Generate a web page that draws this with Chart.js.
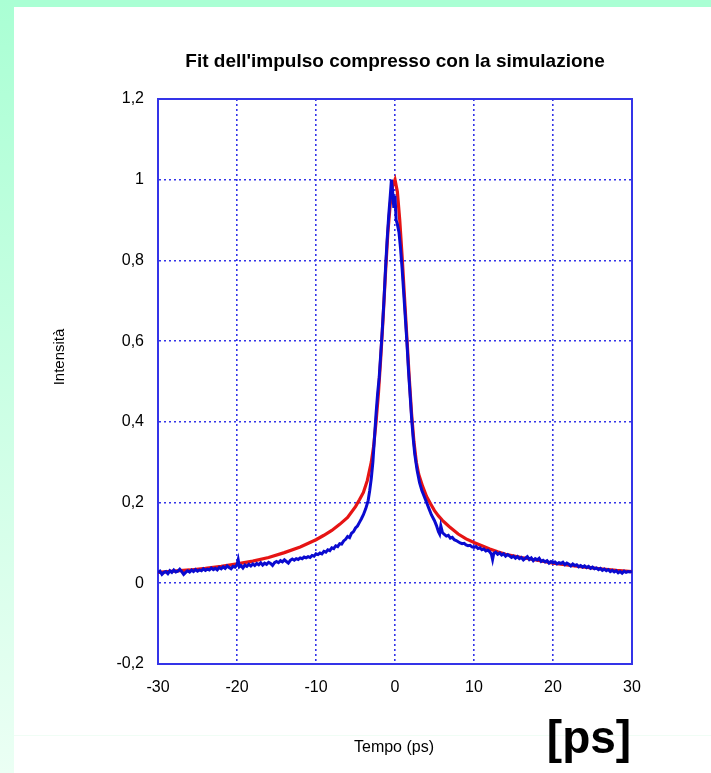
<!DOCTYPE html>
<html>
<head>
<meta charset="utf-8">
<script src="https://cdn.jsdelivr.net/npm/chart.js@4/dist/chart.umd.min.js"></script>
<style>
  html, body { margin: 0; padding: 0; background: #ffffff; overflow: hidden; }
  #wrap { position: relative; width: 711px; height: 773px; }
  #topStrip { position: absolute; left: 0; top: 0; width: 711px; height: 7px; background: #aaffd4; }
  #leftStrip { position: absolute; left: 0; top: 0; width: 14px; height: 773px; background: linear-gradient(#aaffd4, #ebfff4); }
  #faint { position: absolute; left: 14px; top: 735px; width: 697px; height: 1px; background: #f0fdf5; }
  canvas { position: absolute; left: 0; top: 0; }
</style>
</head>
<body>
<div id="wrap">
  <div id="topStrip"></div>
  <div id="leftStrip"></div>
  <div id="faint"></div>
  <canvas id="c" width="711" height="773"></canvas>
</div>
<script>
// ---- Data ----
const titleText = "Fit dell'impulso compresso con la simulazione";
const xAxisTitle = "Tempo (ps)";
const yAxisTitle = "Intensità";
const unitLabel = "[ps]";
const yTickLabels = ['-0,2', '0', '0,2', '0,4', '0,6', '0,8', '1', '1,2'];
const xTickLabels = ['-30', '-20', '-10', '0', '10', '20', '30'];

// Simulation (red)
const simX = [-30, -28, -26, -24, -22, -20, -18, -16, -14, -12, -10, -9, -8, -7, -6, -5, -4.5, -4, -3.5, -3, -2.7, -2.4, -2.1, -1.8, -1.5, -1.2, -0.9, -0.6, -0.3, 0, 0.3, 0.6, 0.9, 1.2, 1.5, 1.8, 2.1, 2.4, 2.7, 3, 3.5, 4, 4.5, 5, 5.5, 6, 6.5, 7, 8, 9, 10, 11, 12, 13, 14, 16, 18, 20, 22, 24, 26, 28, 30];
const simY = [0.027, 0.030, 0.033, 0.037, 0.042, 0.048, 0.055, 0.064, 0.076, 0.090, 0.108, 0.119, 0.131, 0.146, 0.163, 0.190, 0.207, 0.225, 0.255, 0.300, 0.340, 0.400, 0.470, 0.560, 0.660, 0.770, 0.870, 0.940, 0.985, 1.000, 0.970, 0.900, 0.810, 0.710, 0.610, 0.510, 0.420, 0.350, 0.300, 0.270, 0.240, 0.215, 0.197, 0.180, 0.167, 0.156, 0.147, 0.138, 0.122, 0.110, 0.101, 0.093, 0.085, 0.078, 0.072, 0.064, 0.057, 0.050, 0.045, 0.040, 0.036, 0.032, 0.029];

// Measured pulse (blue)
const measX = [
  -30, -29.75, -29.5, -29.25, -29, -28.75, -28.5, -28.25, -28, -27.75, -27.5, -27.25, -27, -26.75, -26.5, -26.25, -26, -25.75, -25.5, -25.25,
  -25, -24.75, -24.5, -24.25, -24, -23.75, -23.5, -23.25, -23, -22.75, -22.5, -22.25, -22, -21.75, -21.5, -21.25, -21, -20.75, -20.5, -20.25,
  -20, -19.85, -19.7, -19.5, -19.25, -19, -18.75, -18.5, -18.25, -18, -17.75, -17.5, -17.25, -17, -16.75, -16.5, -16.25, -16, -15.75, -15.5,
  -15.25, -15, -14.75, -14.5, -14.25, -14, -13.75, -13.5, -13.25, -13, -12.75, -12.5, -12.25, -12, -11.75, -11.5, -11.25, -11, -10.75, -10.5,
  -10.25, -10, -9.75, -9.5, -9.25, -9, -8.75, -8.5, -8.25, -8, -7.75, -7.5, -7.25, -7, -6.75, -6.5, -6.25, -6, -5.75, -5.5,
  -5.25, -5, -4.75, -4.5, -4.25, -4, -3.7, -3.4, -3.2, -3, -2.8, -2.6, -2.4, -2.2, -2, -1.8, -1.6, -1.4, -1.2, -1.0,
  -0.8, -0.6, -0.45, -0.3, -0.15, 0, 0.15, 0.3, 0.5, 0.7, 0.9, 1.1, 1.3, 1.5, 1.7, 1.9, 2.1, 2.3, 2.5, 2.8,
  3.1, 3.4, 3.7, 4, 4.3, 4.6, 5, 5.25, 5.5, 5.65, 5.8, 6, 6.25, 6.5, 6.75, 7, 7.25, 7.5, 7.75, 8,
  8.25, 8.5, 8.75, 9, 9.25, 9.5, 9.75, 10, 10.25, 10.5, 10.75, 11, 11.25, 11.5, 11.75, 12, 12.2, 12.35, 12.5, 12.75,
  13, 13.25, 13.5, 13.75, 14, 14.25, 14.5, 14.75, 15, 15.25, 15.5, 15.75, 16, 16.25, 16.5, 16.75, 17, 17.25, 17.5, 17.75,
  18, 18.25, 18.5, 18.75, 19, 19.25, 19.5, 19.75, 20, 20.25, 20.5, 20.75, 21, 21.25, 21.5, 21.75, 22, 22.25, 22.5, 22.75,
  23, 23.25, 23.5, 23.75, 24, 24.25, 24.5, 24.75, 25, 25.25, 25.5, 25.75, 26, 26.25, 26.5, 26.75, 27, 27.25, 27.5, 27.75,
  28, 28.25, 28.5, 28.75, 29, 29.25, 29.5, 29.75, 30
];
const measY = [
  0.026, 0.030, 0.022, 0.027, 0.029, 0.024, 0.031, 0.027, 0.033, 0.028, 0.030, 0.035, 0.029, 0.022, 0.027, 0.031, 0.028, 0.033, 0.029, 0.034,
  0.030, 0.033, 0.031, 0.036, 0.032, 0.035, 0.033, 0.038, 0.034, 0.037, 0.033, 0.039, 0.036, 0.041, 0.037, 0.043, 0.039, 0.036, 0.042, 0.040,
  0.046, 0.058, 0.041, 0.044, 0.038, 0.045, 0.042, 0.047, 0.043, 0.048, 0.044, 0.049, 0.046, 0.051, 0.045, 0.050, 0.047, 0.052, 0.049, 0.044,
  0.051, 0.054, 0.051, 0.056, 0.053, 0.058, 0.054, 0.050, 0.057, 0.060, 0.057, 0.061, 0.059, 0.063, 0.061, 0.065, 0.063, 0.066, 0.064, 0.069,
  0.067, 0.073, 0.071, 0.075, 0.073, 0.079, 0.077, 0.083, 0.081, 0.088, 0.086, 0.093, 0.091, 0.098, 0.097, 0.105, 0.109, 0.116, 0.113, 0.124,
  0.128, 0.137, 0.142, 0.151, 0.160, 0.170, 0.185, 0.205, 0.230, 0.260, 0.300, 0.360, 0.420, 0.470, 0.510, 0.570, 0.630, 0.700, 0.780, 0.850,
  0.910, 0.960, 1.000, 0.970, 0.930, 0.960, 0.900, 0.890, 0.870, 0.830, 0.780, 0.720, 0.660, 0.600, 0.530, 0.470, 0.410, 0.360, 0.320, 0.280,
  0.250, 0.230, 0.215, 0.200, 0.185, 0.170, 0.155, 0.143, 0.128, 0.122, 0.142, 0.126, 0.121, 0.117, 0.119, 0.112, 0.114, 0.108, 0.106, 0.103,
  0.100, 0.098, 0.099, 0.095, 0.093, 0.094, 0.090, 0.089, 0.091, 0.086, 0.088, 0.083, 0.085, 0.080, 0.082, 0.078, 0.072, 0.059, 0.074, 0.077,
  0.072, 0.075, 0.070, 0.073, 0.067, 0.071, 0.068, 0.064, 0.067, 0.062, 0.066, 0.061, 0.064, 0.058, 0.062, 0.066, 0.059, 0.063, 0.056, 0.061,
  0.058, 0.062, 0.054, 0.057, 0.053, 0.056, 0.050, 0.054, 0.051, 0.053, 0.048, 0.051, 0.049, 0.052, 0.046, 0.050, 0.047, 0.043, 0.048, 0.044,
  0.046, 0.041, 0.044, 0.040, 0.043, 0.039, 0.042, 0.037, 0.040, 0.036, 0.038, 0.034, 0.037, 0.032, 0.035, 0.031, 0.034, 0.029, 0.032, 0.028,
  0.031, 0.026, 0.029, 0.025, 0.030, 0.027, 0.029, 0.028, 0.030
];

// ---- Chart ----
const FONT = '"Liberation Sans", Arial, sans-serif';
const GRID_BLUE = '#3434e8';
const toPts = (xs, ys) => xs.map((x, i) => ({ x: x, y: ys[i] }));

const textPlugin = {
  id: 'texts',
  beforeDatasetsDraw(chart) {
    const { ctx, chartArea: a } = chart;
    ctx.save();
    ctx.strokeStyle = GRID_BLUE;
    ctx.lineWidth = 2;
    ctx.strokeRect(a.left, a.top, a.right - a.left, a.bottom - a.top);
    ctx.restore();
  },
  afterDraw(chart) {
    const { ctx, chartArea: a } = chart;
    const cx = (a.left + a.right) / 2;
    ctx.save();
    ctx.fillStyle = '#000';
    ctx.textAlign = 'center';
    ctx.textBaseline = 'middle';
    ctx.font = 'bold 19px ' + FONT;
    ctx.fillText(titleText, cx, 62);
    ctx.font = '16px ' + FONT;
    ctx.fillText(xAxisTitle, cx - 1, 748);
    ctx.save();
    ctx.translate(60, 357);
    ctx.rotate(-Math.PI / 2);
    ctx.font = '15px ' + FONT;
    ctx.fillText(yAxisTitle, 0, 0);
    ctx.restore();
    ctx.font = 'bold 46px ' + FONT;
    ctx.fillText(unitLabel, 589, 740);
    ctx.restore();
  }
};

new Chart(document.getElementById('c'), {
  type: 'line',
  data: {
    datasets: [
      { label: 'misura', data: toPts(measX, measY), borderColor: '#0a0ad0', borderWidth: 3, pointRadius: 0, tension: 0, fill: false },
      { label: 'simulazione', data: toPts(simX, simY), borderColor: '#e61414', borderWidth: 3.2, pointRadius: 0, tension: 0, fill: false }
    ]
  },
  options: {
    responsive: false,
    animation: false,
    devicePixelRatio: 1,
    layout: { padding: { left: 0, top: 99, right: 79, bottom: 69 } },
    plugins: { legend: { display: false }, title: { display: false }, tooltip: { enabled: false } },
    scales: {
      x: {
        type: 'linear', min: -30, max: 30,
        afterFit(s) { s.height = 40; },
        ticks: {
          stepSize: 10, padding: 14, color: '#000',
          font: { family: FONT, size: 16 },
          callback: (v) => xTickLabels[Math.round((v + 30) / 10)]
        },
        grid: { color: GRID_BLUE, lineWidth: 1.6, drawTicks: false },
        border: { display: true, color: GRID_BLUE, width: 2, dash: [2, 3] }
      },
      y: {
        type: 'linear', min: -0.2, max: 1.2,
        afterFit(s) { s.width = 158; },
        ticks: {
          stepSize: 0.2, padding: 14, color: '#000',
          font: { family: FONT, size: 16 },
          callback: (v) => yTickLabels[Math.round((v + 0.2) / 0.2)]
        },
        grid: { color: GRID_BLUE, lineWidth: 1.6, drawTicks: false },
        border: { display: true, color: GRID_BLUE, width: 2, dash: [2, 3] }
      }
    }
  },
  plugins: [textPlugin]
});
</script>
</body>
</html>
